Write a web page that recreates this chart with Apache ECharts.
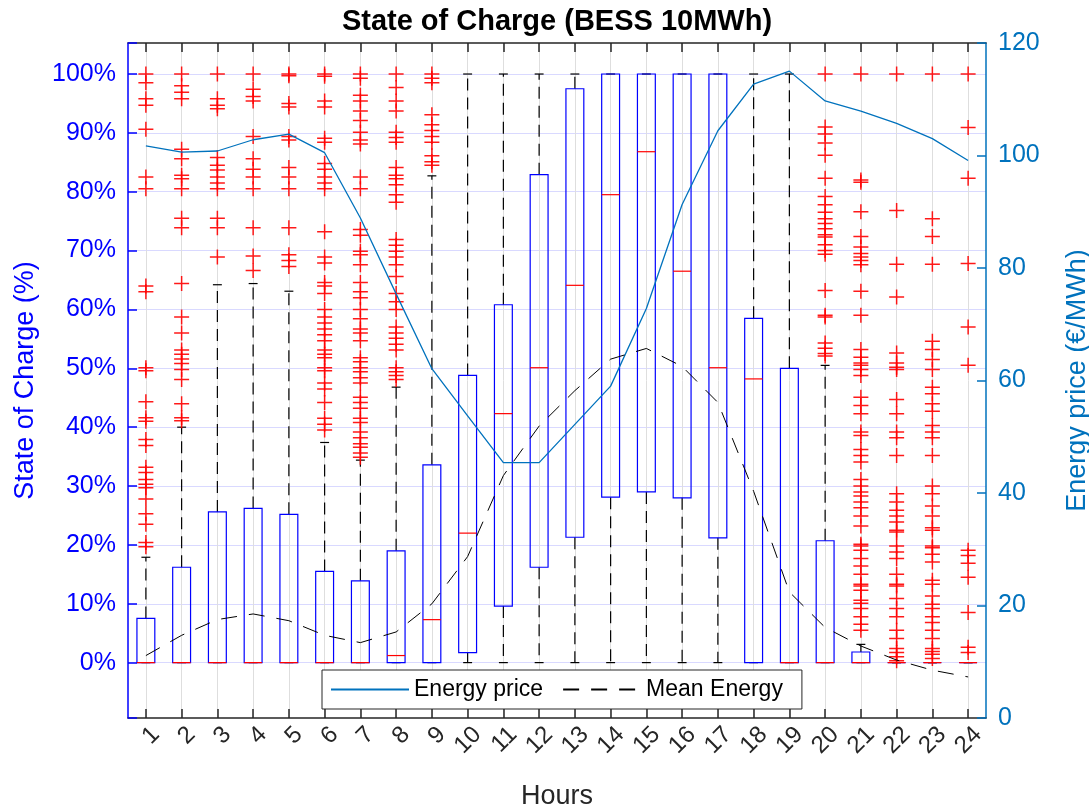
<!DOCTYPE html>
<html>
<head>
<meta charset="utf-8">
<title>State of Charge (BESS 10MWh)</title>
<script src="https://cdn.jsdelivr.net/npm/echarts@6/dist/echarts.min.js"></script>
<style>
  html, body { margin: 0; padding: 0; background: #fff; }
  #chart { width: 1089px; height: 807px; }
</style>
</head>
<body>
<div id="chart"></div>
<script>
// Hour-of-day categories
const hours = ['1','2','3','4','5','6','7','8','9','10','11','12','13','14','15','16','17','18','19','20','21','22','23','24'];

// Box statistics of the state of charge (%) per hour
const whiskerLow  = [0,0,0,0,0,0,0,0,0,0,0,0,0,0,0,0,0,0,0,0,0,0,0,0];
const q1          = [0,0,0,0,0,0,0,0,0,1.7,9.6,16.2,21.3,28.1,29.0,28.0,21.2,0,0,0,0,0,0,0];
const median      = [0,0,0,0,0,0,0,1.2,7.3,22.0,42.3,50.1,64.1,79.5,86.8,66.5,50.1,48.2,0,0,0,0,0,0];
const q3          = [7.5,16.2,25.6,26.2,25.2,15.5,13.9,19.0,33.6,48.8,60.8,82.9,97.5,100,100,100,100,58.5,50.0,20.7,1.8,0,0,0];
const whiskerHigh = [17.9,40.0,64.2,64.4,63.1,37.4,34.4,46.8,82.7,100,100,100,100,100,100,100,100,100,100,50.5,3.1,0,0,0];

// Outliers (%) per hour
const outliers = [
  [100,98.5,95.8,94.7,90.6,82.5,80.5,64.0,63.0,50.1,49.6,44.3,41.6,41.0,37.9,36.9,33.2,32.3,31.1,30.3,29.7,27.8,25.3,23.5,20.4,19.7],
  [100,98.0,96.9,95.8,87.2,85.6,82.8,82.2,80.5,75.5,73.9,64.4,58.7,56.0,53.1,52.4,51.6,50.8,49.8,48.1,44.0,41.6,41.1],
  [100,95.8,94.7,94.1,85.8,84.5,83.7,82.5,81.5,80.5,75.5,73.9,68.9],
  [100,97.4,96.2,95.4,89.4,85.6,83.8,82.5,80.5,73.9,69.1,66.6],
  [100,99.7,95.0,94.4,89.4,88.8,84.1,82.5,80.5,73.9,69.3,68.3,67.3],
  [100,99.6,95.4,94.4,89.1,88.4,84.8,83.8,82.5,81.5,80.5,73.2,68.9,67.9,64.6,64.0,62.7,60.0,58.7,57.7,56.7,55.7,54.7,53.1,52.4,51.8,50.1,49.6,47.5,46.5,44.2,41.5,40.5,39.5],
  [100,99.3,96.4,95.4,93.7,92.1,90.1,88.8,88.1,82.5,80.5,73.6,72.6,69.9,69.3,67.6,64.6,63.0,62.0,60.0,58.4,56.7,56.0,54.7,51.8,51.1,50.1,49.4,48.4,47.5,45.1,44.2,43.2,41.5,40.8,39.2,38.2,37.2,36.6,35.6,34.9],
  [100,97.7,95.4,93.7,90.1,89.2,88.4,84.1,82.8,82.2,81.2,79.5,78.2,71.9,70.9,69.9,68.9,67.6,65.6,62.7,61.3,60.0,57.0,56.0,55.1,54.1,53.1,50.1,49.4,48.8,48.1],
  [100,99.3,98.5,93.1,91.4,90.4,89.4,88.4,86.1,85.1,84.5],
  [], [], [], [], [], [], [], [], [], [],
  [100,91.0,89.8,88.3,86.2,82.3,79.2,77.8,76.5,75.4,74.6,73.7,72.7,72.3,71.0,70.0,69.4,63.2,59.0,58.7,54.3,53.4,52.5,52.1],
  [100,82.0,81.6,76.6,72.4,70.6,69.5,68.9,68.3,67.6,63.1,59.0,53.2,51.9,50.9,50.5,49.8,48.8,45.1,43.7,42.3,39.2,38.6,36.2,35.2,34.1,31.1,30.0,29.0,28.3,27.3,26.3,24.9,23.2,20.1,19.8,19.1,17.7,16.4,15.0,13.3,13.0,12.3,10.6,10.1,9.2,7.8,6.5,5.5],
  [100,76.8,67.7,62.1,52.6,50.9,50.2,49.8,44.7,42.3,39.2,38.2,35.2,28.7,27.3,25.9,24.9,23.9,22.5,22.2,19.8,18.8,17.7,15.0,13.3,13.0,10.9,9.2,7.8,5.5,4.1,2.4,1.7,1.0,0.3],
  [100,75.4,72.4,67.7,54.6,53.2,51.5,49.8,46.8,45.7,44.0,42.7,40.3,39.2,38.2,35.2,30.0,28.7,26.6,24.9,22.9,22.5,19.8,19.5,18.4,17.1,14.0,13.3,11.3,9.9,9.2,7.8,6.8,5.5,4.1,2.4,1.9,1.4,0.7],
  [100,90.9,82.3,67.8,57.0,50.5,19.1,18.2,16.9,14.5,8.5,2.6,1.7]
];

// Hourly energy price (€/MWh) and mean stored energy (right axis scale)
const energyPrice = [101.7,100.6,100.8,102.8,103.8,100.5,88.9,75.4,62.1,53.7,45.4,45.4,52.2,59.0,72.8,91.3,104.4,112.7,115.0,109.7,107.9,105.7,103.0,99.1];
const meanEnergy  = [11.1,14.7,17.5,18.5,17.3,14.7,13.4,15.3,20.3,28.7,43.1,51.9,58.2,63.8,65.7,62.5,56.1,40.3,22.4,16.1,12.8,10.3,8.5,7.3];

// Left axis tick labels (every 10 %)
const socTicks = [0,10,20,30,40,50,60,70,80,90,100];

const FONT = '"Liberation Sans", Arial, Helvetica, sans-serif';

const boxData = hours.map((h, i) => [i, whiskerLow[i], q1[i], median[i], q3[i], whiskerHigh[i]]);
const outlierData = [];
outliers.forEach((list, i) => list.forEach(v => outlierData.push([i, v])));

function renderBox(params, api) {
  const i = api.value(0);
  const band = api.size([1, 0])[0];
  const hb = band * 0.25;   // half box width
  const hc = band * 0.125;  // half whisker-cap width
  const pLow = api.coord([i, api.value(1)]);
  const pQ1 = api.coord([i, api.value(2)]);
  const pMed = api.coord([i, api.value(3)]);
  const pQ3 = api.coord([i, api.value(4)]);
  const pHigh = api.coord([i, api.value(5)]);
  const cx = pQ1[0];
  const dash = { stroke: '#000', lineWidth: 1.2, lineDash: [12, 7], fill: null };
  const solid = { stroke: '#000', lineWidth: 1.2, fill: null };
  const children = [];
  if (pLow[1] - pQ1[1] > 0.5) {
    children.push({ type: 'line', shape: { x1: cx, y1: pQ1[1], x2: cx, y2: pLow[1] }, style: dash });
  }
  if (pQ3[1] - pHigh[1] > 0.5) {
    children.push({ type: 'line', shape: { x1: cx, y1: pQ3[1], x2: cx, y2: pHigh[1] }, style: dash });
  }
  children.push({ type: 'line', shape: { x1: cx - hc, y1: pLow[1], x2: cx + hc, y2: pLow[1] }, style: solid });
  children.push({ type: 'line', shape: { x1: cx - hc, y1: pHigh[1], x2: cx + hc, y2: pHigh[1] }, style: solid });
  children.push({
    type: 'rect',
    shape: { x: cx - hb, y: pQ3[1], width: hb * 2, height: Math.max(pQ1[1] - pQ3[1], 0) },
    style: { stroke: '#0000FF', lineWidth: 1.2, fill: null }
  });
  children.push({ type: 'line', shape: { x1: cx - hb, y1: pMed[1], x2: cx + hb, y2: pMed[1] }, style: { stroke: '#FF0000', lineWidth: 1.2 } });
  return { type: 'group', children };
}

const chart = echarts.init(document.getElementById('chart'), null, { renderer: 'canvas' });

chart.setOption({
  animation: false,
  backgroundColor: '#fff',
  textStyle: { fontFamily: FONT },
  title: {
    text: 'State of Charge (BESS 10MWh)',
    left: 557,
    textAlign: 'center',
    top: 7,
    padding: 0,
    textStyle: { fontSize: 29, fontWeight: 'bold', color: '#000', fontFamily: FONT }
  },
  grid: { left: 128, right: 103, top: 43, bottom: 89, containLabel: false, outerBoundsMode: 'none' },
  legend: {
    data: ['Energy price', 'Mean Energy'],
    left: 322,
    top: 670,
    padding: [8, 19, 8, 8],
    itemWidth: 78,
    itemHeight: 14,
    itemGap: 19,
    itemStyle: { opacity: 0 },
    backgroundColor: '#fff',
    borderColor: '#262626',
    borderWidth: 1,
    borderRadius: 0,
    textStyle: { fontSize: 23, color: '#000', fontFamily: FONT }
  },
  xAxis: [
    {
      type: 'category',
      data: hours,
      position: 'bottom',
      boundaryGap: true,
      name: 'Hours',
      nameLocation: 'middle',
      nameGap: 65,
      nameTextStyle: { fontSize: 27, color: '#262626', fontFamily: FONT },
      axisLine: { show: true, onZero: false, lineStyle: { color: '#262626', width: 1.5 } },
      axisTick: { show: true, inside: true, length: 9, alignWithLabel: true, lineStyle: { color: '#262626', width: 1.5 } },
      axisLabel: {
        interval: 0, rotate: 45, fontSize: 24, color: '#262626', margin: 3,
        verticalAlign: 'top', lineHeight: 28, fontFamily: FONT
      },
      splitLine: { show: true, alignWithLabel: true, lineStyle: { color: '#DEDEDE', width: 1 } }
    },
    {
      type: 'category',
      data: hours,
      position: 'top',
      boundaryGap: true,
      axisLine: { show: true, onZero: false, lineStyle: { color: '#262626', width: 1.5 } },
      axisTick: { show: true, inside: true, length: 9, interval: 0, alignWithLabel: true, lineStyle: { color: '#262626', width: 1.5 } },
      axisLabel: { show: false },
      splitLine: { show: false }
    }
  ],
  yAxis: [
    {
      type: 'value',
      position: 'left',
      min: -9.41,
      max: 105.27,
      minInterval: 10,
      maxInterval: 10,
      name: 'State of Charge (%)',
      nameLocation: 'middle',
      nameRotate: 90,
      nameGap: 89,
      nameTextStyle: { fontSize: 27, color: '#0000FF', fontFamily: FONT },
      axisLine: { show: true, lineStyle: { color: '#0000FF', width: 1.5 } },
      axisTick: { show: true, inside: true, length: 9, lineStyle: { color: '#0000FF', width: 1.5 } },
      axisLabel: {
        fontSize: 25, color: '#0000FF', margin: 12, fontFamily: FONT,
        formatter: v => socTicks.some(t => Math.abs(t - v) < 1e-6) ? Math.round(v) + '%' : ''
      },
      splitLine: { show: true, showMinLine: false, showMaxLine: false, lineStyle: { color: '#D9D9FF', width: 1 } }
    },
    {
      type: 'value',
      position: 'right',
      min: 0,
      max: 120,
      interval: 20,
      name: 'Energy price (€/MWh)',
      nameLocation: 'middle',
      nameRotate: 90,
      nameGap: 78,
      nameTextStyle: { fontSize: 27, color: '#0072BD', fontFamily: FONT },
      axisLine: { show: true, lineStyle: { color: '#0072BD', width: 1.5 } },
      axisTick: { show: true, inside: true, length: 9, lineStyle: { color: '#0072BD', width: 1.5 } },
      axisLabel: { fontSize: 25, color: '#0072BD', margin: 12, fontFamily: FONT },
      splitLine: { show: false }
    }
  ],
  series: [
    {
      name: 'SOC box',
      type: 'custom',
      xAxisIndex: 0,
      yAxisIndex: 0,
      z: 2,
      renderItem: renderBox,
      encode: { x: 0, y: [1, 2, 3, 4, 5] },
      data: boxData
    },
    {
      name: 'Outliers',
      type: 'scatter',
      xAxisIndex: 0,
      yAxisIndex: 0,
      z: 3,
      symbol: 'path://M-1,-0.1H1V0.1H-1Z M-0.1,-1H0.1V1H-0.1Z',
      symbolSize: 15,
      itemStyle: { color: '#FF0000', opacity: 0.9 },
      emphasis: { disabled: true },
      data: outlierData
    },
    {
      name: 'Energy price',
      type: 'line',
      xAxisIndex: 0,
      yAxisIndex: 1,
      z: 4,
      symbol: 'none',
      lineStyle: { color: '#0072BD', width: 1.3 },
      itemStyle: { color: '#0072BD' },
      data: energyPrice
    },
    {
      name: 'Mean Energy',
      type: 'line',
      xAxisIndex: 0,
      yAxisIndex: 1,
      z: 4,
      symbol: 'none',
      lineStyle: { color: '#000', width: 1, type: [16, 12] },
      itemStyle: { color: '#000' },
      data: meanEnergy
    }
  ]
});
</script>
</body>
</html>
